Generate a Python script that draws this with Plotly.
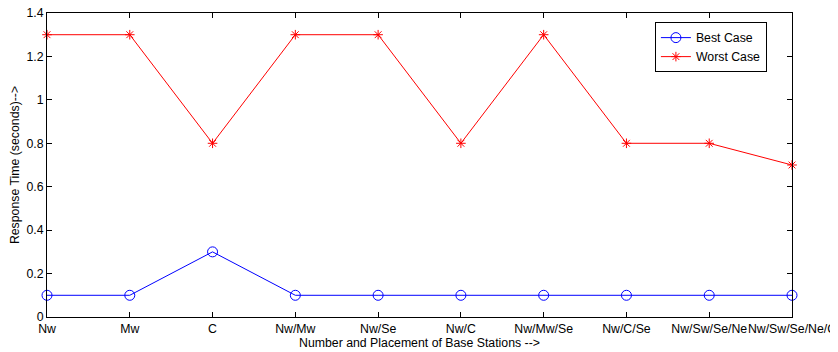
import plotly.graph_objects as go

categories = ["Nw", "Mw", "C", "Nw/Mw", "Nw/Se", "Nw/C", "Nw/Mw/Se", "Nw/C/Se",
              "Nw/Sw/Se/Ne", "Nw/Sw/Se/Ne/C"]
best_case = [0.1, 0.1, 0.3, 0.1, 0.1, 0.1, 0.1, 0.1, 0.1, 0.1]
worst_case = [1.3, 1.3, 0.8, 1.3, 1.3, 0.8, 1.3, 0.8, 0.8, 0.7]
y_ticks = [0, 0.2, 0.4, 0.6, 0.8, 1, 1.2, 1.4]
y_tick_text = ["0", "0.2", "0.4", "0.6", "0.8", "1", "1.2", "1.4"]

font = "Liberation Sans, Arial, sans-serif"
fs = 12.3

fig = go.Figure()
fig.add_trace(go.Scatter(
    x=categories, y=best_case, mode="lines+markers", name="Best Case",
    line=dict(color="#0000ff", width=1),
    marker=dict(symbol="circle-open", size=10, color="#0000ff", line=dict(width=1)),
    cliponaxis=False,
))
fig.add_trace(go.Scatter(
    x=categories, y=worst_case, mode="lines+markers", name="Worst Case",
    line=dict(color="#ff0000", width=1),
    marker=dict(symbol="asterisk-open", size=8, color="#ff0000", line=dict(width=1, color="#ff0000")),
    cliponaxis=False,
))

# page body has an 8px margin, so the figure is sized to fit the window
fig.update_layout(
    width=830, height=344,
    margin=dict(l=39, r=46, t=5, b=35, autoexpand=False),
    paper_bgcolor="white", plot_bgcolor="white",
    font=dict(family=font, size=fs, color="black"),
    showlegend=True,
    legend=dict(
        x=0.816, y=0.970, xanchor="left", yanchor="top",
        bordercolor="black", borderwidth=1, bgcolor="white",
        font=dict(size=fs), tracegroupgap=0, itemwidth=30,
    ),
    xaxis=dict(
        type="category", range=[0, 9], automargin=False, tickangle=0,
        showline=True, linecolor="black", linewidth=1, mirror="ticks",
        ticks="inside", ticklen=5, tickcolor="black",
        showgrid=False, zeroline=False, ticklabeloverflow="allow",
        tickfont=dict(size=fs), ticklabelstandoff=0,
        title=dict(text="Number and Placement of Base Stations -->", standoff=0,
                   font=dict(size=fs)),
    ),
    yaxis=dict(
        range=[0, 1.4], tickvals=y_ticks, ticktext=y_tick_text, automargin=False,
        showline=True, linecolor="black", linewidth=1, mirror="ticks",
        ticks="inside", ticklen=5, tickcolor="black",
        showgrid=False, zeroline=False, ticklabeloverflow="allow",
        tickfont=dict(size=fs),
        title=dict(text="Response Time (seconds)-->", standoff=4,
                   font=dict(size=fs)),
    ),
)

fig.write_html("out.html")
